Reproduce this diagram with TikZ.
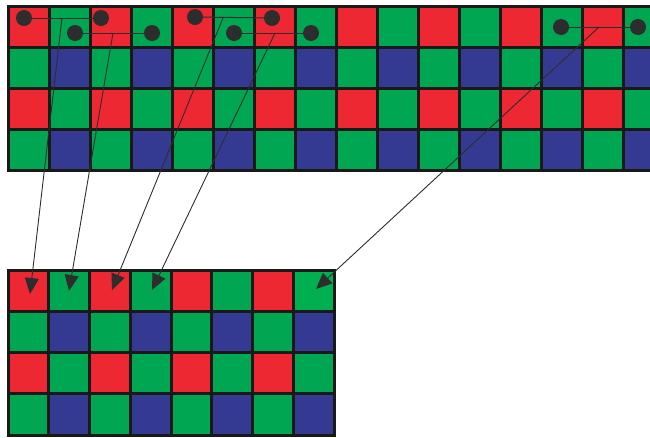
\documentclass[tikz,border=0pt]{standalone}
\usetikzlibrary{arrows.meta}
\definecolor{cR}{RGB}{237,40,50}
\definecolor{cG}{RGB}{0,166,81}
\definecolor{cB}{RGB}{52,57,146}
\definecolor{cGb}{RGB}{0,176,80}
\definecolor{ink}{RGB}{45,45,45}
\colorlet{cell00}{cR}
\colorlet{cell01}{cG}
\colorlet{cell10}{cG}
\colorlet{cell11}{cB}
\tikzset{
  cellbox/.style={draw=black!90, line width=3pt},
  dot/.style={circle, fill=ink, minimum size=16pt, inner sep=0pt},
  link/.style={draw=ink, line width=1pt},
  arr/.style={draw=ink, line width=0.9pt, -{Triangle[length=16pt,width=14pt]}}
}
\begin{document}
\begin{tikzpicture}[x=1pt,y=-1pt]
\useasboundingbox (0,0) rectangle (650,437);
\clip (0,0) rectangle (650,437);
% top grid
\foreach \r in {0,...,3}{
  \foreach \c in {0,...,15}{
    \pgfmathtruncatemacro\ra{mod(\r,2)}
    \pgfmathtruncatemacro\cb{mod(\c,2)}
    \filldraw[cellbox, fill=cell\ra\cb] (8+41*\c, 6+41*\r) rectangle ++(41,41);
  }
}
% bottom grid
\foreach \r in {0,...,3}{
  \foreach \c in {0,...,7}{
    \pgfmathtruncatemacro\ra{mod(\r,2)}
    \pgfmathtruncatemacro\cb{mod(\c,2)}
    \filldraw[cellbox, fill=cell\ra\cb] (8+40.75*\c, 270+41.25*\r) rectangle ++(40.75,41.25);
  }
}
\filldraw[cellbox, fill=cGb] (8+40.75*7, 270) rectangle ++(40.75,41.25);
% dots and links
\node[dot] (d1) at (24,18) {};
\node[dot] (d2) at (101,18) {};
\node[dot] (d3) at (75,33) {};
\node[dot] (d4) at (152,33) {};
\node[dot] (d5) at (195,17) {};
\node[dot] (d6) at (272,18) {};
\node[dot] (d7) at (234,33) {};
\node[dot] (d8) at (311,33) {};
\node[dot] (d9) at (561,27) {};
\node[dot] (d10) at (638,27) {};
\draw[link] (d1) -- (d2);
\draw[link] (d3) -- (d4);
\draw[link] (d5) -- (d6);
\draw[link] (d7) -- (d8);
\draw[link] (d9) -- (d10);
% arrows
\coordinate (s1) at (62,18);
\coordinate (s2) at (113,33);
\coordinate (s3) at (223,18);
\coordinate (s4) at (275,33);
\coordinate (s5) at (599,27);
\coordinate (t1) at (30,294);
\coordinate (t2) at (69,291);
\coordinate (t3) at (112,290);
\coordinate (t4) at (152,290);
\coordinate (t5) at (316,289);
\draw[arr] (s1) -- (t1);
\draw[arr] (s2) -- (t2);
\draw[arr] (s3) -- (t3);
\draw[arr] (s4) -- (t4);
\draw[arr] (s5) -- (t5);
\end{tikzpicture}
\end{document}
